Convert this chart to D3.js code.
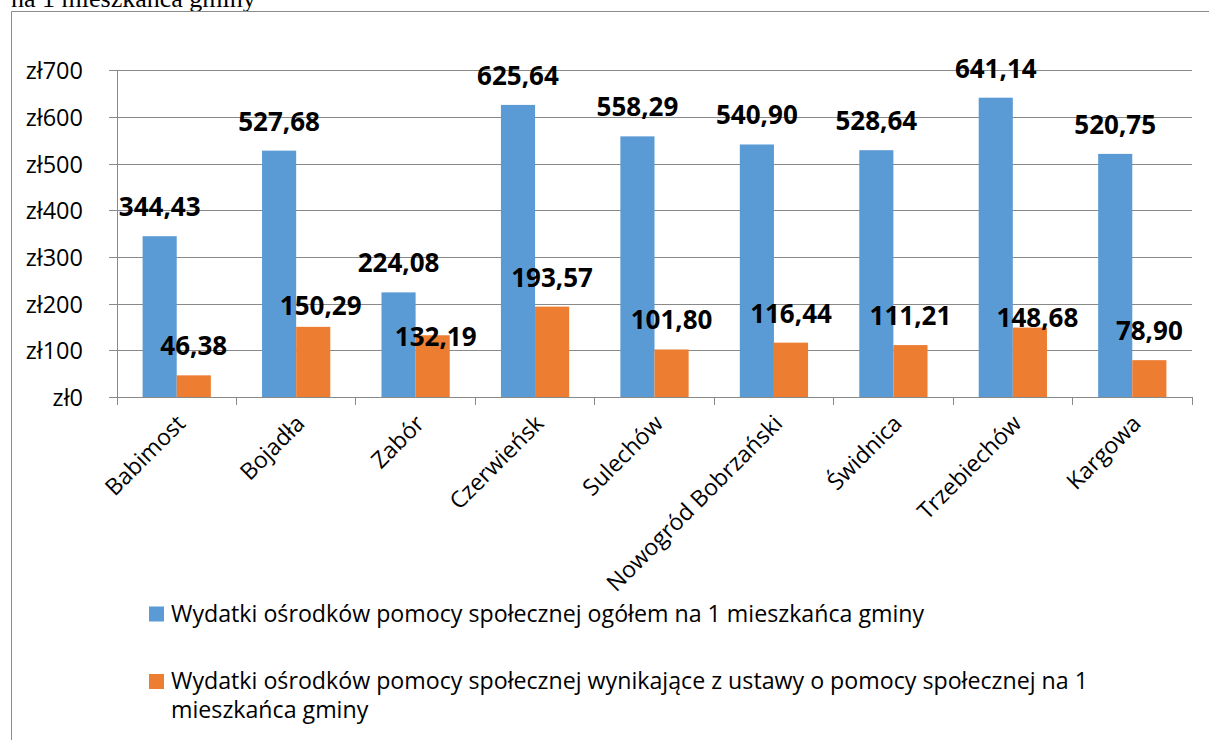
<!DOCTYPE html>
<html>
<head>
<meta charset="utf-8">
<script src="https://cdn.jsdelivr.net/npm/d3@7"></script>
<style>
  html, body { margin: 0; padding: 0; background: #ffffff; }
  svg { display: block; }
</style>
</head>
<body>
<script>
// Gminy and per-capita spending of the social assistance centres (zł)
const categories = ["Babimost", "Bojadła", "Zabór", "Czerwieńsk", "Sulechów",
  "Nowogród Bobrzański", "Świdnica", "Trzebiechów", "Kargowa"];
const totalSpending = [344.43, 527.68, 224.08, 625.64, 558.29, 540.90, 528.64, 641.14, 520.75];
const statutorySpending = [46.38, 150.29, 132.19, 193.57, 101.80, 116.44, 111.21, 148.68, 78.90];
const yTicks = [0, 100, 200, 300, 400, 500, 600, 700];
const seriesNames = [
  "Wydatki ośrodków pomocy społecznej ogółem na 1 mieszkańca gminy",
  "Wydatki ośrodków pomocy społecznej wynikające z ustawy o pomocy społecznej na 1 mieszkańca gminy"
];

// Manual nudges for a few value labels that were moved to avoid overlaps (px)
const labelNudgeX = [0, 7.5, 3, 0, 0, 0, 0, 7.6, 0];
const labelNudgeY = [0, 8.3, 30.7, 0, 0, 0, 0, 19, 0];

const W = 1209, H = 740;
const colors = ["#5B9BD5", "#ED7D31"];
const sans = "'Open Sans', 'Noto Sans', sans-serif";

const svg = d3.select("body").append("svg").attr("width", W).attr("height", H);

// Caption text running above the frame (cut by the top edge)
svg.append("text")
  .attr("x", 11).attr("y", 7)
  .attr("font-family", "'Liberation Serif', 'Times New Roman', serif")
  .attr("font-size", 26).attr("fill", "#000")
  .text("na 1 mieszkańca gminy");

// Chart frame
svg.append("path")
  .attr("d", `M11.5,${H + 5} V11.5 H${W + 5}`)
  .attr("fill", "none").attr("stroke", "#8c8c8c").attr("stroke-width", 1);

const plot = { left: 117, right: 1192, top: 70.2, bottom: 397 };

const x = d3.scaleBand().domain(categories).range([plot.left, plot.right]).paddingInner(0).paddingOuter(0);
const y = d3.scaleLinear().domain([0, 700]).range([plot.bottom, plot.top]);
const groupPad = x.bandwidth() * 1.5 / 3.5 / 2;
const xs = d3.scaleBand().domain([0, 1]).range([groupPad, x.bandwidth() - groupPad]);

const gridColor = "#898989";

// Horizontal gridlines with short outside ticks
const yAxis = d3.axisLeft(y).tickValues(yTicks)
  .tickSize(-(plot.right - plot.left)).tickPadding(0)
  .tickFormat(d => "zł" + d);
const gy = svg.append("g").attr("transform", `translate(${plot.left},0)`).call(yAxis);
gy.select(".domain").remove();
gy.selectAll(".tick line").attr("stroke", gridColor).attr("x1", -8).attr("shape-rendering", "crispEdges");
gy.selectAll(".tick text")
  .attr("x", -34).attr("dy", "0.36em")
  .attr("font-family", sans).attr("font-size", 23.5).attr("fill", "#000");

// Vertical axis line
svg.append("line")
  .attr("x1", plot.left).attr("x2", plot.left)
  .attr("y1", plot.top).attr("y2", plot.bottom + 8)
  .attr("stroke", gridColor).attr("shape-rendering", "crispEdges");

// Category axis: boundary ticks
const bounds = categories.map(c => x(c)).concat([plot.right]);
svg.append("g").selectAll("line").data(bounds).join("line")
  .attr("x1", d => d).attr("x2", d => d)
  .attr("y1", plot.bottom).attr("y2", plot.bottom + 8)
  .attr("stroke", gridColor).attr("shape-rendering", "crispEdges");

// Bars
const series = [totalSpending, statutorySpending];
series.forEach((vals, s) => {
  svg.append("g").selectAll("rect").data(vals).join("rect")
    .attr("x", (d, i) => x(categories[i]) + xs(s))
    .attr("width", xs.bandwidth())
    .attr("y", d => y(d))
    .attr("height", d => plot.bottom - y(d))
    .attr("fill", colors[s]);
});

// Baseline on top of the bars
svg.append("line")
  .attr("x1", plot.left).attr("x2", plot.right)
  .attr("y1", plot.bottom + 0.5).attr("y2", plot.bottom + 0.5)
  .attr("stroke", gridColor);

// Value labels
const fmt = v => v.toFixed(2).replace(".", ",");
series.forEach((vals, s) => {
  svg.append("g").selectAll("text").data(vals).join("text")
    .attr("x", (d, i) => x(categories[i]) + xs(s) + xs.bandwidth() / 2 + (s === 1 ? labelNudgeX[i] : 0))
    .attr("y", (d, i) => y(d) - 20 + (s === 1 ? labelNudgeY[i] : 0))
    .attr("text-anchor", "middle")
    .attr("font-family", sans).attr("font-weight", "bold")
    .attr("font-size", 26).attr("fill", "#000")
    .text(d => fmt(d));
});

// Rotated category labels
svg.append("g").selectAll("text").data(categories).join("text")
  .attr("transform", d => `translate(${x(d) + x.bandwidth() / 2 + 10},${plot.bottom + 28}) rotate(-45)`)
  .attr("text-anchor", "end")
  .attr("font-family", sans).attr("font-size", 23).attr("fill", "#000")
  .text(d => d);

// Legend
const legend = svg.append("g");
const legendRows = [
  { lines: [seriesNames[0]], y: 621.5 },
  { lines: ["Wydatki ośrodków pomocy społecznej wynikające z ustawy o pomocy społecznej na 1", "mieszkańca gminy"], y: 689 }
];
legendRows.forEach((row, s) => {
  legend.append("rect")
    .attr("x", 149).attr("y", row.y - 15).attr("width", 15).attr("height", 15)
    .attr("fill", colors[s]);
  const t = legend.append("text")
    .attr("x", 171).attr("y", row.y)
    .attr("font-family", sans).attr("font-size", 23.2).attr("fill", "#000");
  row.lines.forEach((ln, k) => {
    t.append("tspan").attr("x", 171).attr("dy", k === 0 ? 0 : 29).text(ln);
  });
});
</script>
</body>
</html>
